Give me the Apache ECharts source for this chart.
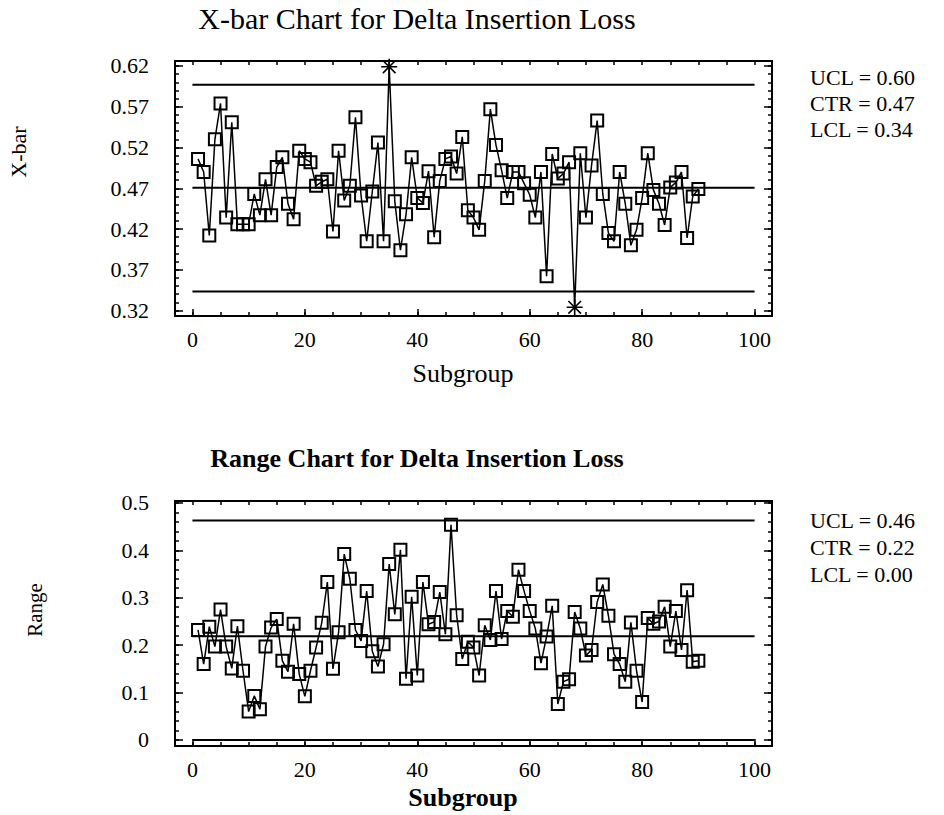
<!DOCTYPE html>
<html>
<head>
<meta charset="utf-8">
<title>X-bar and Range Charts for Delta Insertion Loss</title>
<script src="https://cdn.jsdelivr.net/npm/echarts@6/dist/echarts.min.js"></script>
<style>
  html, body { margin: 0; padding: 0; background: #fff; }
  #main { width: 944px; height: 815px; }
</style>
</head>
<body>
<div id="main"></div>
<script>
// subgroup means (X-bar), subgroups 1..90
var xbarValues = [
  0.506, 0.490, 0.412, 0.530, 0.574, 0.434, 0.551, 0.426, 0.426, 0.426,
  0.463, 0.437, 0.481, 0.437, 0.496, 0.508, 0.451, 0.432, 0.516, 0.506,
  0.502, 0.473, 0.478, 0.481, 0.417, 0.516, 0.455, 0.473, 0.557, 0.461,
  0.405, 0.466, 0.526, 0.405, 0.619, 0.454, 0.394, 0.438, 0.508, 0.458,
  0.452, 0.491, 0.410, 0.479, 0.506, 0.509, 0.488, 0.533, 0.443, 0.434,
  0.419, 0.479, 0.567, 0.523, 0.492, 0.458, 0.490, 0.490, 0.476, 0.462,
  0.434, 0.490, 0.362, 0.512, 0.482, 0.488, 0.502, 0.324, 0.513, 0.434,
  0.498, 0.553, 0.463, 0.415, 0.405, 0.490, 0.451, 0.400, 0.419, 0.458,
  0.513, 0.468, 0.451, 0.425, 0.471, 0.477, 0.490, 0.409, 0.460, 0.469
];
// subgroup ranges
var rangeValues = [
  0.232, 0.160, 0.239, 0.197, 0.275, 0.197, 0.151, 0.240, 0.146, 0.060,
  0.093, 0.065, 0.197, 0.237, 0.255, 0.167, 0.144, 0.245, 0.139, 0.092,
  0.146, 0.195, 0.247, 0.333, 0.150, 0.227, 0.392, 0.340, 0.232, 0.209,
  0.314, 0.187, 0.155, 0.202, 0.371, 0.265, 0.401, 0.129, 0.302, 0.136,
  0.333, 0.244, 0.249, 0.312, 0.223, 0.454, 0.263, 0.171, 0.207, 0.195,
  0.136, 0.242, 0.211, 0.314, 0.213, 0.272, 0.260, 0.359, 0.314, 0.272,
  0.235, 0.162, 0.218, 0.283, 0.076, 0.123, 0.128, 0.270, 0.235, 0.178,
  0.190, 0.291, 0.328, 0.262, 0.181, 0.160, 0.123, 0.248, 0.146, 0.080,
  0.257, 0.245, 0.250, 0.281, 0.197, 0.272, 0.190, 0.316, 0.165, 0.167
];
var subgroups = xbarValues.map(function (v, i) { return i + 1; });

// control limits: UCL, CTR, LCL
var xbarLimits = [0.597, 0.4705, 0.3435];
var rangeLimits = [0.463, 0.219, 0];
var limitNames = ['UCL', 'CTR', 'LCL'];

// tick labels
var xTickLabels = [0, 20, 40, 60, 80, 100];
var xbarTickLabels = [0.32, 0.37, 0.42, 0.47, 0.52, 0.57, 0.62];
var rangeTickLabels = [0, 0.1, 0.2, 0.3, 0.4, 0.5];

var xMinor = [], xbarMinor = [], rangeMinor = [];
for (var k = 0; k <= 100; k += 5) xMinor.push(k);
for (k = 32; k <= 62; k++) xbarMinor.push(k / 100);
for (k = 0; k <= 50; k += 2) rangeMinor.push(k / 100);

var FONT = '"Liberation Serif", "Times New Roman", serif';
var STAR = 'path://M9,0L11,0L11,20L9,20Z M0,9L20,9L20,11L0,11Z M1.4,2.8L2.8,1.4L18.6,17.2L17.2,18.6Z M17.2,1.4L18.6,2.8L2.8,18.6L1.4,17.2Z';

function tick(len, values) {
  return { show: true, inside: true, length: len, customValues: values, lineStyle: { color: '#000', width: 1.5 } };
}

function makeXAxes(grid) {
  var base = { type: 'value', gridIndex: grid, min: -3.1, max: 103.1, splitLine: { show: false }, axisLine: { show: false, onZero: false } };
  return [
    Object.assign({}, base, {
      position: 'bottom', axisTick: tick(7, xTickLabels),
      axisLabel: { customValues: xTickLabels, color: '#000', fontFamily: FONT, fontSize: 22, margin: 12 }
    }),
    Object.assign({}, base, { position: 'bottom', axisTick: tick(4, xMinor), axisLabel: { show: false } }),
    Object.assign({}, base, { position: 'top', axisTick: tick(4, xMinor), axisLabel: { show: false } })
  ];
}

function makeYAxes(grid, min, max, majors, minors, digits) {
  var base = { type: 'value', gridIndex: grid, min: min, max: max, splitLine: { show: false }, axisLine: { show: false, onZero: false } };
  return [
    Object.assign({}, base, {
      position: 'left', axisTick: tick(8, majors),
      axisLabel: {
        customValues: majors, color: '#000', fontFamily: FONT, fontSize: 22, margin: 26,
        formatter: function (v) { return v === 0 ? '0' : v.toFixed(digits); }
      }
    }),
    Object.assign({}, base, { position: 'left', axisTick: tick(4, minors), axisLabel: { show: false } }),
    Object.assign({}, base, { position: 'right', axisTick: tick(8, majors), axisLabel: { show: false } }),
    Object.assign({}, base, { position: 'right', axisTick: tick(4, minors), axisLabel: { show: false } })
  ];
}

function dataSeries(values, limits, xIdx, yIdx) {
  return {
    type: 'line',
    xAxisIndex: xIdx,
    yAxisIndex: yIdx,
    symbol: 'rect',
    symbolSize: 12,
    itemStyle: { color: 'rgba(255,255,255,0)', borderColor: '#000', borderWidth: 2 },
    lineStyle: { color: '#000', width: 1.5 },
    z: 5,
    data: values.map(function (v, i) {
      var item = { value: [subgroups[i], v] };
      if (v > limits[0] || v < limits[2]) {
        item.symbol = STAR;
        item.symbolSize = 16;
        item.itemStyle = { color: '#000', borderWidth: 0 };
      }
      return item;
    })
  };
}

function limitSeries(limits, xIdx, yIdx) {
  return limits.map(function (l) {
    return {
      type: 'line', xAxisIndex: xIdx, yAxisIndex: yIdx, symbol: 'none', silent: true,
      lineStyle: { color: '#000', width: 2 },
      data: [[0, l], [100, l]]
    };
  });
}

function text(str, x, y, size, extra) {
  var el = {
    type: 'text', x: x, y: y,
    style: {
      text: str, fill: '#000',
      font: (extra && extra.bold ? 'bold ' : '') + size + 'px ' + FONT,
      align: (extra && extra.align) || 'center', verticalAlign: 'middle',
      textAlign: (extra && extra.align) || 'center', textVerticalAlign: 'middle'
    }
  };
  if (extra && extra.rotate) el.rotation = Math.PI / 2;
  return el;
}

var graphics = [
  text('X-bar Chart for Delta Insertion Loss', 417, 18, 30),
  text('X-bar', 18, 152, 22, { rotate: true }),
  text('Subgroup', 463, 373, 26),
  text('Range Chart for Delta Insertion Loss', 417, 458, 26, { bold: true }),
  text('Range', 35, 610, 21, { rotate: true }),
  text('Subgroup', 463, 797, 26, { bold: true })
];
var topLabelY = [77, 103, 129];
var bottomLabelY = [520, 547, 574];
limitNames.forEach(function (n, i) {
  graphics.push(text(n + ' = ' + xbarLimits[i].toFixed(2), 810, topLabelY[i], 22, { align: 'left' }));
  graphics.push(text(n + ' = ' + rangeLimits[i].toFixed(2), 810, bottomLabelY[i], 22, { align: 'left' }));
});

var mycharts = echarts.init(document.getElementById('main'), null, { renderer: 'svg' });
var options = {
  animation: false,
  backgroundColor: '#fff',
  grid: [
    { left: 175, top: 61, width: 597, height: 255, show: true, borderColor: '#000', borderWidth: 2, backgroundColor: 'rgba(0,0,0,0)' },
    { left: 175, top: 501, width: 597, height: 245, show: true, borderColor: '#000', borderWidth: 2, backgroundColor: 'rgba(0,0,0,0)' }
  ],
  xAxis: makeXAxes(0).concat(makeXAxes(1)),
  yAxis: makeYAxes(0, 0.3133, 0.6261, xbarTickLabels, xbarMinor, 2)
    .concat(makeYAxes(1, -0.0127, 0.504, rangeTickLabels, rangeMinor, 1)),
  series: limitSeries(xbarLimits, 0, 0)
    .concat([dataSeries(xbarValues, xbarLimits, 0, 0)])
    .concat(limitSeries(rangeLimits, 3, 4))
    .concat([dataSeries(rangeValues, rangeLimits, 3, 4)]),
  graphic: graphics
};
mycharts.setOption(options);
</script>
</body>
</html>
